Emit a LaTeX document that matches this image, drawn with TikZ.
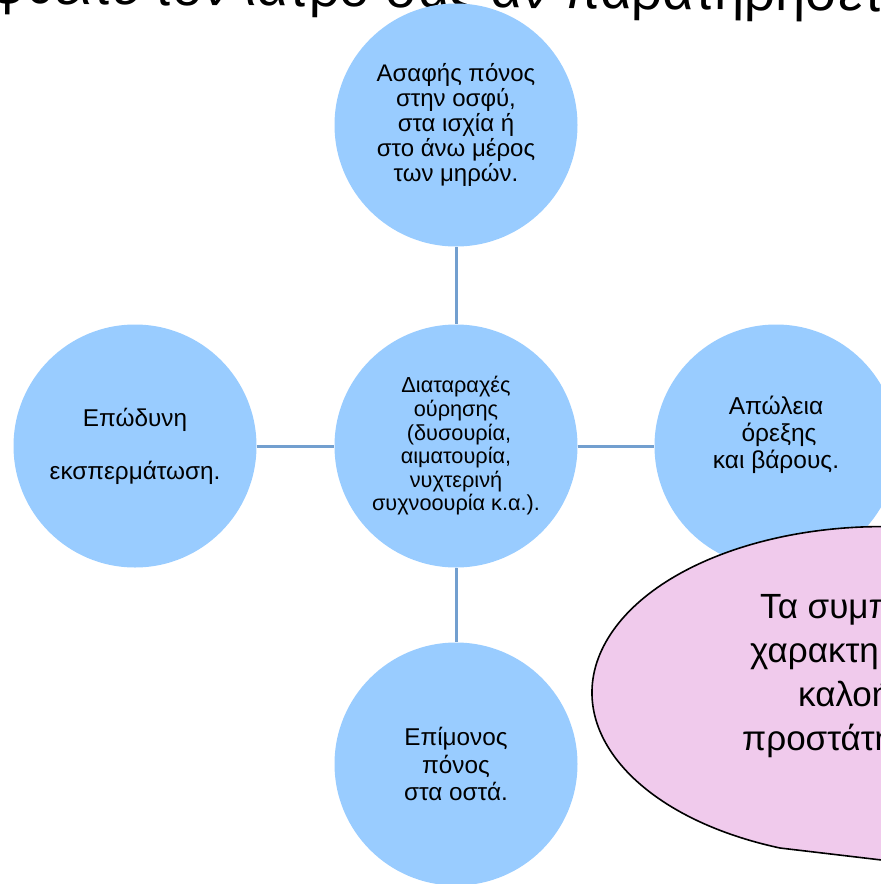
\documentclass[tikz,border=0pt]{standalone}
\usepackage{fontspec}
\setmainfont{Liberation Sans}
\definecolor{bubbleblue}{RGB}{153,204,255}
\definecolor{linkblue}{RGB}{114,159,207}
\definecolor{notepink}{RGB}{240,202,236}
\begin{document}
\begin{tikzpicture}[
    x=1pt, y=-1pt,
    bubble/.style={circle, fill=bubbleblue, minimum size=243pt, inner sep=0pt, align=center, font=\fontsize{24}{25}\selectfont},
    link/.style={draw=linkblue, line width=3pt},
    heading/.style={inner sep=0pt, font=\fontsize{54}{62}\selectfont},
    notebox/.style={draw=black, line width=1.6pt, fill=notepink},
    notetext/.style={inner sep=0pt, align=left, font=\fontsize{35}{44}\selectfont}
]
\useasboundingbox (0,0) rectangle (881,884);

% Τίτλος (κομμένος)
\node[heading, anchor=base west, rotate=-0.5] (title) at (152,5) {\llap{Επισκεφθείτε }τον ιατρό σας αν παρατηρήσετε:};

% Κύκλοι
\node[bubble] (top) at (456,125) {Ασαφής πόνος\\ στην οσφύ,\\ στα ισχία ή\\ στο άνω μέρος\\ των μηρών.};
\node[bubble, font=\fontsize{21.7}{23.6}\selectfont] (center) at (456,446) {Διαταραχές\\ ούρησης\\ \hspace*{6pt}(δυσουρία,\\ αιματουρία,\\ νυχτερινή\\ συχνοουρία κ.α.).};
\node[bubble, font=\fontsize{24.3}{26.5}\selectfont] (left) at (135,446) {Επώδυνη\\[26.5pt] εκσπερμάτωση.};
\node[bubble, font=\fontsize{24.5}{27}\selectfont] (right) at (776,446) {Απώλεια\\ \hspace*{6pt}όρεξης\\ και βάρους.\\ \mbox{}};
\node[bubble, font=\fontsize{24.3}{27.5}\selectfont] (bottom) at (456,764) {Επίμονος\\ πόνος\\ στα οστά.};

% Συνδέσεις
\draw[link] (top) -- (center);
\draw[link] (left) -- (center);
\draw[link] (center) -- (right);
\draw[link] (center) -- (bottom);

% Σύννεφο σχολίου
\filldraw[notebox] (1000,874) -- (780,848) arc[start angle=110.6, end angle=435, x radius=290, y radius=166] -- cycle;
\node[notetext, anchor=base west] (note) at (742,750) {\hspace*{18pt}Τα συμπτώματα\\ \hspace*{8pt}χαρακτηριστικά\\ \hspace*{56pt}καλοήθους\\ προστάτη};

\end{tikzpicture}
\end{document}
